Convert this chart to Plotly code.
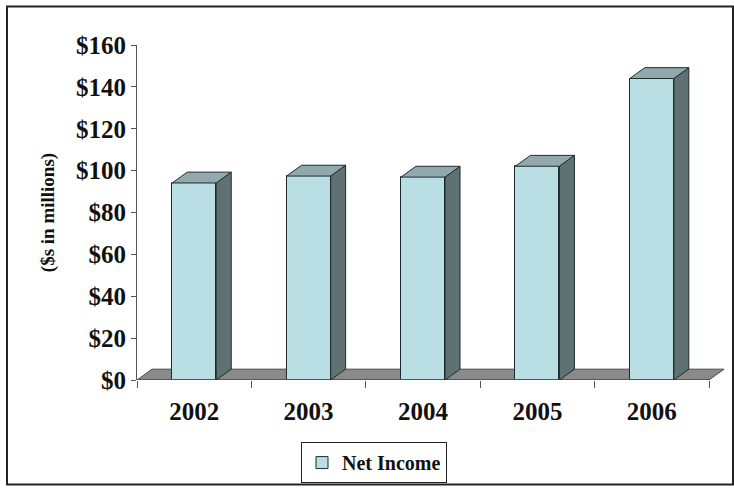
import plotly.graph_objects as go

# ---- data ----
years = ["2002", "2003", "2004", "2005", "2006"]
net_income = [94.1, 97.4, 96.9, 102.1, 144.0]
y_tick_vals = [0, 20, 40, 60, 80, 100, 120, 140, 160]
y_tick_text = ["$0", "$20", "$40", "$60", "$80", "$100", "$120", "$140", "$160"]

# ---- style / layout constants ----
W, H = 734, 493
L, R, T = 137, 10, 45
B = H - 385
PLOT_W = W - L - R
PLOT_H = H - T - B
DEPTH_PX_X, DEPTH_PX_Y = 15, 11
N = len(years)
x_max = N - 0.5 + DEPTH_PX_X * N / (PLOT_W - DEPTH_PX_X)
px_per_cat = PLOT_W / (x_max + 0.5)
DX = DEPTH_PX_X / px_per_cat
Y_MAX = 160
DY = DEPTH_PX_Y * Y_MAX / PLOT_H
BAR_W = 0.385

FRONT = "#B9DEE3"
SIDE = "#5F7173"
TOP = "#91A9AC"
EDGE = "#1E2B2C"
FLOOR = "#8A8A8A"
SERIF = "Liberation Serif"

xs = list(range(N))

fig = go.Figure()
fig.add_trace(go.Bar(
    x=xs, y=net_income, width=BAR_W, name="Net Income",
    marker=dict(color=FRONT, line=dict(color=EDGE, width=1)),
    hoverinfo="skip",
))
# invisible trace for the boundary tick axis
fig.add_trace(go.Scatter(x=[-0.5, N - 0.5], y=[0, 0], xaxis="x2", mode="markers",
                         marker=dict(opacity=0), showlegend=False, hoverinfo="skip"))

shapes = []
# floor
shapes.append(dict(
    type="path", xref="x", yref="y", layer="below",
    path=f"M {-0.5},0 L {N-0.5},0 L {N-0.5+DX},{DY} L {-0.5+DX},{DY} Z",
    fillcolor=FLOOR, line=dict(color="#4A4A4A", width=1),
))
# front axis line
shapes.append(dict(type="line", xref="x", yref="y", x0=-0.5, x1=N - 0.5, y0=0, y1=0,
                   line=dict(color="#555555", width=2)))
for x, v in zip(xs, net_income):
    xl, xr = x - BAR_W / 2, x + BAR_W / 2
    # side face
    shapes.append(dict(
        type="path", xref="x", yref="y", layer="above",
        path=f"M {xr},0 L {xr+DX},{DY} L {xr+DX},{v+DY} L {xr},{v} Z",
        fillcolor=SIDE, line=dict(color=EDGE, width=1),
    ))
    # top face
    shapes.append(dict(
        type="path", xref="x", yref="y", layer="above",
        path=f"M {xl},{v} L {xr},{v} L {xr+DX},{v+DY} L {xl+DX},{v+DY} Z",
        fillcolor=TOP, line=dict(color=EDGE, width=1),
    ))
# outer frame (figure pixels converted to paper units)
fx0, fx1, fy0, fy1 = 7, 733, 6, 491
shapes.append(dict(
    type="rect", xref="paper", yref="paper",
    x0=(fx0 - L) / PLOT_W, x1=(fx1 - L) / PLOT_W,
    y0=(H - B - fy1) / PLOT_H, y1=(H - B - fy0) / PLOT_H,
    line=dict(color="#222222", width=2), fillcolor="rgba(0,0,0,0)",
))

fig.update_layout(
    width=W, height=H,
    margin=dict(l=L, r=R, t=T, b=B, pad=0),
    paper_bgcolor="white", plot_bgcolor="white",
    shapes=shapes,
    bargap=0,
    xaxis=dict(
        range=[-0.5, x_max], tickmode="array", tickvals=xs, ticktext=years,
        ticks="", showline=False, showgrid=False, zeroline=False,
        tickfont=dict(family=SERIF, size=25, color="#111111", weight="bold"),
        ticklabelstandoff=14,
    ),
    xaxis2=dict(
        range=[-0.5, x_max], overlaying="x", anchor="y", side="bottom",
        tickmode="array", tickvals=[i - 0.5 for i in range(N + 1)],
        ticks="outside", ticklen=7, tickcolor="#555555", tickwidth=1,
        showticklabels=False, showline=False, showgrid=False, zeroline=False,
    ),
    yaxis=dict(
        range=[0, Y_MAX], tickmode="array", tickvals=y_tick_vals, ticktext=y_tick_text,
        ticks="outside", ticklen=5, tickcolor="#555555",
        showline=True, linecolor="#555555", linewidth=1,
        showgrid=False, zeroline=False,
        tickfont=dict(family=SERIF, size=25, color="#111111", weight="bold"),
        title=dict(text="($s in millions)", standoff=16,
                   font=dict(family=SERIF, size=19, color="#111111", weight="bold")),
    ),
    showlegend=True,
    legend=dict(
        orientation="h", x=(374 - L) / PLOT_W, xanchor="center",
        y=(H - B - 448) / PLOT_H, yanchor="top",
        bordercolor="#222222", borderwidth=1, bgcolor="white",
        itemwidth=30,
        font=dict(family=SERIF, size=20, color="#111111", weight="bold"),
    ),
)

fig.write_html("out.html", config={"displayModeBar": False},
               post_script="document.body.style.margin='0';")
